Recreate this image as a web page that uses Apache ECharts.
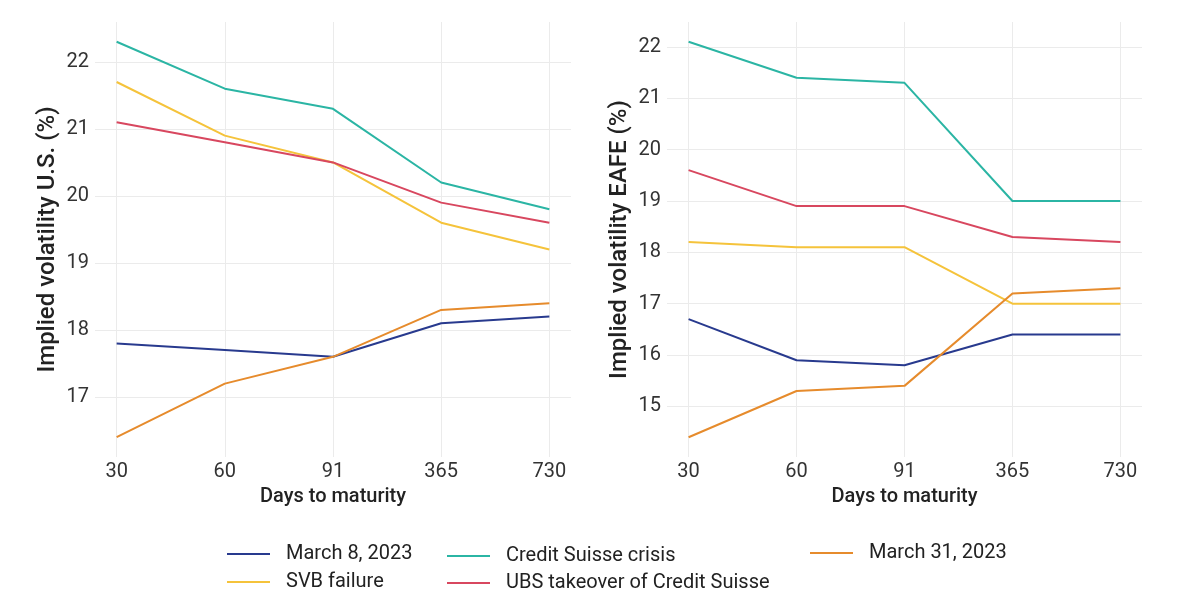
<!DOCTYPE html>
<html>
<head>
<meta charset="utf-8">
<script src="https://cdn.jsdelivr.net/npm/echarts@6/dist/echarts.min.js"></script>
<style>
  html, body { margin: 0; padding: 0; background: #fff; }
  #charts { width: 1200px; height: 600px; }
</style>
</head>
<body>
<div id="charts"></div>
<script>
// days to maturity (categories on the x axis)
var days = ['30', '60', '91', '365', '730'];

// implied volatility, U.S.
var usMarch8 = [17.8, 17.7, 17.6, 18.1, 18.2];
var usSvb = [21.7, 20.9, 20.5, 19.6, 19.2];
var usCsCrisis = [22.3, 21.6, 21.3, 20.2, 19.8];
var usUbs = [21.1, 20.8, 20.5, 19.9, 19.6];
var usMarch31 = [16.4, 17.2, 17.6, 18.3, 18.4];

// implied volatility, EAFE
var eafeMarch8 = [16.7, 15.9, 15.8, 16.4, 16.4];
var eafeSvb = [18.2, 18.1, 18.1, 17.0, 17.0];
var eafeCsCrisis = [22.1, 21.4, 21.3, 19.0, 19.0];
var eafeUbs = [19.6, 18.9, 18.9, 18.3, 18.2];
var eafeMarch31 = [14.4, 15.3, 15.4, 17.2, 17.3];

var usTicks = [17, 18, 19, 20, 21, 22];
var eafeTicks = [15, 16, 17, 18, 19, 20, 21, 22];

var names = ['March 8, 2023', 'SVB failure', 'Credit Suisse crisis', 'UBS takeover of Credit Suisse', 'March 31, 2023'];
var colors = ['#283a8e', '#f5c33b', '#2bb5a4', '#d8475f', '#e68b2c'];

var myChart = echarts.init(document.getElementById('charts'), null, { width: 1200, height: 600 });

var font = 'Roboto';
var gridColor = '#ebebeb';
var catIdx = days.map(function (d, i) { return i; });

function pairs(vals) {
  return vals.map(function (v, i) { return [i, v]; });
}

function xAxisFor(gridIndex) {
  return {
    type: 'value',
    gridIndex: gridIndex,
    min: -0.2,
    max: 4.2,
    name: 'Days to maturity',
    nameLocation: 'middle',
    nameGap: 29,
    nameTextStyle: { fontFamily: font, fontSize: 20, fontWeight: 500, color: '#222' },
    axisLine: { show: false },
    axisTick: { show: false, customValues: catIdx },
    axisLabel: {
      customValues: catIdx,
      formatter: function (v) { return days[Math.round(v)]; },
      fontFamily: font, fontSize: 20, color: '#333', margin: 5
    },
    splitLine: { show: true, lineStyle: { color: gridColor, width: 1 } }
  };
}

function yAxisFor(gridIndex, lo, hi, ticks, title) {
  return {
    type: 'value',
    gridIndex: gridIndex,
    min: lo,
    max: hi,
    name: title,
    nameLocation: 'middle',
    nameGap: 35,
    nameTextStyle: { fontFamily: font, fontSize: 24, fontWeight: 500, color: '#222' },
    axisLine: { show: false },
    axisTick: { show: false, customValues: ticks },
    axisLabel: { customValues: ticks, fontFamily: font, fontSize: 20, color: '#333', margin: 6 },
    splitLine: { show: true, lineStyle: { color: gridColor, width: 1 } }
  };
}

var usSets = [usMarch8, usSvb, usCsCrisis, usUbs, usMarch31];
var eafeSets = [eafeMarch8, eafeSvb, eafeCsCrisis, eafeUbs, eafeMarch31];

var series = [];
usSets.forEach(function (vals, k) {
  series.push({
    name: names[k], type: 'line', xAxisIndex: 0, yAxisIndex: 0,
    data: pairs(vals), showSymbol: false, silent: true,
    lineStyle: { color: colors[k], width: 2 }, itemStyle: { color: colors[k] }
  });
});
eafeSets.forEach(function (vals, k) {
  series.push({
    name: names[k], type: 'line', xAxisIndex: 1, yAxisIndex: 1,
    data: pairs(vals), showSymbol: false, silent: true,
    lineStyle: { color: colors[k], width: 2 }, itemStyle: { color: colors[k] }
  });
});

// ggplot-like legend: three columns, placed item by item
var legendPos = [
  { left: 227, top: 544 },
  { left: 227, top: 572 },
  { left: 447, top: 546 },
  { left: 447, top: 573 },
  { left: 810, top: 543 }
];
var legends = legendPos.map(function (p, k) {
  return {
    left: p.left, top: p.top, padding: 0,
    data: [names[k]],
    icon: 'rect', itemWidth: 43, itemHeight: 2, itemGap: 0,
    selectedMode: false,
    textStyle: { fontFamily: font, fontSize: 20, color: '#222', padding: [0, 0, 0, 11], lineHeight: 20 }
  };
});

var option = {
  animation: false,
  backgroundColor: '#fff',
  grid: [
    { left: 95, top: 22, width: 476, height: 435 },
    { left: 667, top: 22, width: 475, height: 435 }
  ],
  xAxis: [xAxisFor(0), xAxisFor(1)],
  yAxis: [
    yAxisFor(0, 16.105, 22.595, usTicks, 'Implied volatility U.S. (%)'),
    yAxisFor(1, 14.015, 22.485, eafeTicks, 'Implied volatility EAFE (%)')
  ],
  legend: legends,
  series: series
};

myChart.setOption(option);
</script>
</body>
</html>
